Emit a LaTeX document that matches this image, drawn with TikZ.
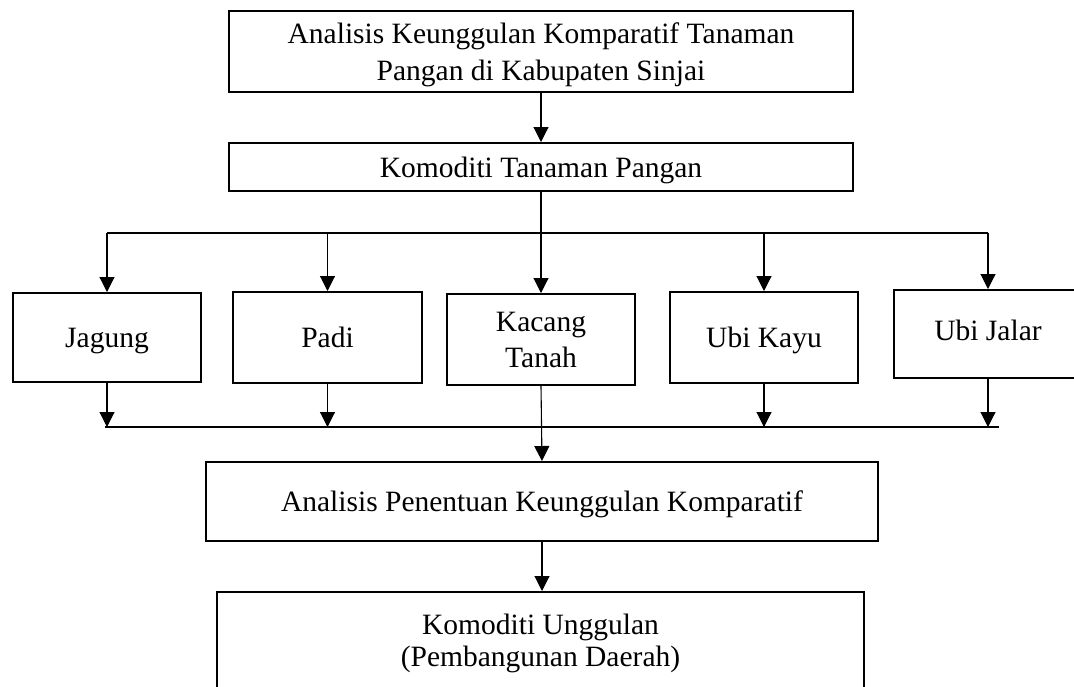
\documentclass[tikz,border=0pt]{standalone}
\usepackage{fontspec}
\setmainfont{Liberation Serif}
\usetikzlibrary{arrows.meta}
\begin{document}
\begin{tikzpicture}[x=1pt,y=-1pt,
  box/.style={draw, line width=2pt, align=center, inner sep=0pt,
    font=\fontsize{29.5}{36}\selectfont},
  single/.style={text height=25pt, text depth=4.5pt},
  conn/.style={line width=1.1pt},
  bus/.style={line width=2pt},
  arr/.style={conn, -{Triangle[length=15pt,width=15pt]}},
]
\useasboundingbox (0,0) rectangle (1074,686);
% boxes
\node[box, font=\fontsize{29.5}{37}\selectfont, text depth=0pt, minimum width=624pt, minimum height=81pt] (top) at (541,51.5)
  {Analisis Keunggulan Komparatif Tanaman\\Pangan di Kabupaten Sinjai};
\node[box, single, minimum width=624pt, minimum height=48pt] (kom) at (541,167)
  {Komoditi Tanaman Pangan};
\node[box, single, minimum width=188pt, minimum height=89pt] (jag) at (107,337.5) {Jagung};
\node[box, single, minimum width=189pt, minimum height=91pt] (padi) at (327.5,337.5) {Padi};
\node[box, minimum width=188pt, minimum height=91pt] (kac) at (541,339.5) {Kacang\\Tanah};
\node[box, single, minimum width=188pt, minimum height=91pt] (kayu) at (764,337.5) {Ubi Kayu};
\node[box, text height=25pt, text depth=13pt, minimum width=188pt, minimum height=88pt] (jalar) at (988,334) {Ubi Jalar};
\node[box, single, minimum width=672pt, minimum height=79pt] (pen) at (542,501.5)
  {Analisis Penentuan Keunggulan Komparatif};
\node[box, font=\fontsize{29.5}{32}\selectfont, minimum width=647pt, minimum height=102pt] (ung) at (540.5,643)
  {Komoditi Unggulan\\(Pembangunan Daerah)};
% coordinates of the buses
\coordinate (tl) at (107,232.5);
\coordinate (tm) at (541,232.5);
\coordinate (tr) at (988,232.5);
\coordinate (bl) at (105,427);
\coordinate (br) at (999,427);
% connectors
\draw[arr] (top.south) -- (kom.north);
\draw[conn] (kom.south) -- (tm);
\draw[bus] (tl) -- (tr);
\draw[arr] (tl) -- (jag.north);
\draw[arr] (padi.north |- tl) -- (padi.north);
\draw[arr] (tm) -- (kac.north);
\draw[arr] (kayu.north |- tl) -- (kayu.north);
\draw[arr] (tr) -- (jalar.north);
\draw[conn] (bl) -- (br);
\draw[arr] (jag.south) -- (jag.south |- bl);
\draw[arr] (padi.south) -- (padi.south |- bl);
\draw[arr] (kayu.south) -- (kayu.south |- bl);
\draw[arr] (jalar.south) -- (jalar.south |- bl);
\draw[arr] (kac.south) -- (pen.north);
\draw[arr] (pen.south) -- (pen.south |- ung.north);
\end{tikzpicture}
\end{document}
